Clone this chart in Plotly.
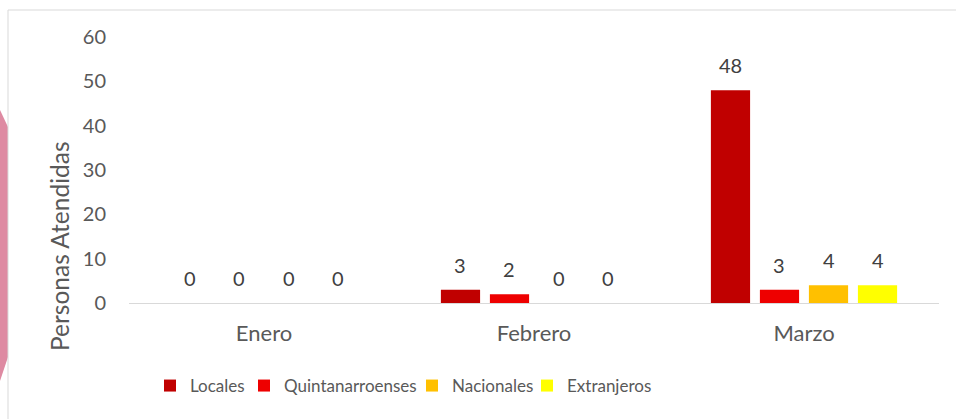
import plotly.graph_objects as go

categories = ["Enero", "Febrero", "Marzo"]
series_names = ["Locales", "Quintanarroenses", "Nacionales", "Extranjeros"]
locales = [0, 3, 48]
quintanarroenses = [0, 2, 3]
nacionales = [0, 0, 4]
extranjeros = [0, 0, 4]
y_ticks = [0, 10, 20, 30, 40, 50, 60]

series_values = [locales, quintanarroenses, nacionales, extranjeros]
colors = ["#C00000", "#EE0000", "#FFC000", "#FFFF00"]

W, H = 956, 419
L, R, T, B = 129, 17, 37, 116
pw, ph = W - L - R, H - T - B

def px2x(px):
    return (px - L) / pw

def py2y(py):
    return (H - B - py) / ph

FONT = "Lato"
TXT = "#595959"

legend_ids = ["legend", "legend2", "legend3", "legend4"]
legend_px = [150, 244, 412, 527]

fig = go.Figure()
for name, vals, col, lid in zip(series_names, series_values, colors, legend_ids):
    fig.add_trace(go.Bar(x=categories, y=vals, name=name, legend=lid,
                         marker=dict(color=col, line=dict(width=0))))

# data labels
slot = pw / 3 * (1 - 0.274) / 4
for i, vals in enumerate(series_values):
    for c, v in zip(categories, vals):
        fig.add_annotation(x=c, y=v, text=str(v), showarrow=False,
                           xshift=(i - 1.5) * slot, yshift=25,
                           yanchor="middle", xanchor="center",
                           font=dict(family=FONT, size=20, color="#404040"))

fig.add_annotation(xref="paper", yref="paper", x=px2x(59), y=py2y(246),
                   text="Personas Atendidas", textangle=-90, showarrow=False,
                   xanchor="center", yanchor="middle",
                   font=dict(family=FONT, size=24.5, color=TXT))

shapes = [
    dict(type="path", xref="paper", yref="paper",
         path="M {x0},{y0} L {x1},{y1} L {x1},{y2} L {x0},{y3} Z".format(
             x0=px2x(0), x1=px2x(8), y0=py2y(110), y1=py2y(127), y2=py2y(357), y3=py2y(381)),
         fillcolor="#DE8AA2", line=dict(width=0), layer="below"),
    dict(type="rect", xref="paper", yref="paper", x0=px2x(8), x1=px2x(W + 20),
         y0=py2y(H + 20), y1=py2y(10), line=dict(color="#D9D9D9", width=1),
         fillcolor="rgba(0,0,0,0)", layer="below"),
]

legend_common = dict(orientation="h", xanchor="left", y=py2y(386), yanchor="middle",
                     font=dict(family=FONT, size=17, color=TXT), itemwidth=30,
                     bgcolor="rgba(0,0,0,0)")
legends = {lid: dict(legend_common, x=px2x(p)) for lid, p in zip(legend_ids, legend_px)}

fig.update_layout(
    width=W, height=H,
    margin=dict(l=L, r=R, t=T, b=B),
    paper_bgcolor="white", plot_bgcolor="white",
    barmode="group", bargap=0.274, bargroupgap=0.2,
    font=dict(family=FONT, size=18, color=TXT),
    showlegend=True,
    xaxis=dict(showgrid=False, showline=True, linecolor="#D9D9D9", linewidth=1,
               ticks="", tickfont=dict(family=FONT, size=22, color=TXT),
               ticklabelstandoff=11, zeroline=False),
    yaxis=dict(range=[0, 60], tickvals=y_ticks, showgrid=False, showline=False,
               zeroline=False, ticks="", tickfont=dict(family=FONT, size=20, color=TXT),
               ticklabelstandoff=22),
    shapes=shapes,
    **legends,
)

fig.write_html("out.html", config={"displayModeBar": False},
               post_script="document.body.style.margin='0';")
